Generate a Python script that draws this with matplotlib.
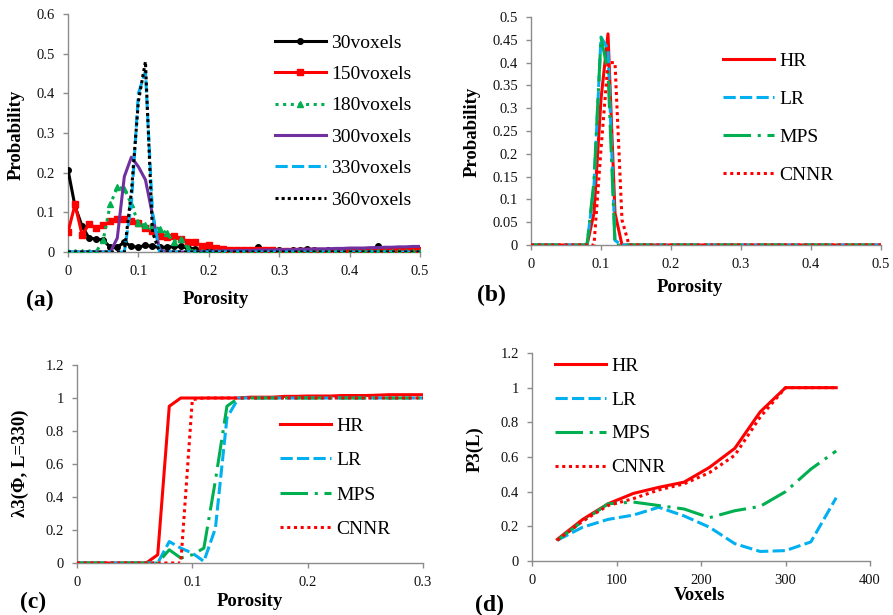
import matplotlib
matplotlib.use('Agg')
import matplotlib.pyplot as plt
from matplotlib.ticker import FixedLocator, FuncFormatter

plt.rcParams['font.family'] = ['Liberation Serif', 'DejaVu Serif']
plt.rcParams['mathtext.fontset'] = 'stix'

# ---------------- data ----------------
# (a) porosity distributions at different window sizes
por_a = [round(i * 0.01, 2) for i in range(51)]
v30 = [0.207, 0.115, 0.065, 0.035, 0.033, 0.03, 0.012, 0.012, 0.025, 0.014,
       0.012, 0.017, 0.014, 0.012, 0.012, 0.014, 0.014, 0.01, 0.008, 0.006,
       0.005, 0.004, 0.005, 0.006, 0.006, 0.004, 0.005, 0.012, 0.004, 0.003,
       0.004, 0.003, 0.004, 0.005, 0.008, 0.004, 0.003, 0.005, 0.003, 0.004,
       0.003, 0.004, 0.003, 0.004, 0.014, 0.004, 0.003, 0.004, 0.003, 0.003,
       0.002]
v150 = [0.05, 0.12, 0.043, 0.071, 0.06, 0.067, 0.077, 0.083, 0.084, 0.079,
        0.073, 0.06, 0.052, 0.04, 0.037, 0.04, 0.034, 0.025, 0.024, 0.016,
        0.017, 0.01, 0.008, 0.006, 0.006, 0.005, 0.005, 0.004, 0.004, 0.004,
        0.003, 0.003, 0.003, 0.003, 0.003, 0.003, 0.003, 0.003, 0.003, 0.003,
        0.003, 0.003, 0.003, 0.003, 0.003, 0.003, 0.003, 0.003, 0.004, 0.004,
        0.005]
v180 = [0, 0, 0, 0, 0, 0.03, 0.12, 0.163, 0.16, 0.12,
        0.073, 0.067, 0.066, 0.058, 0.048, 0.025, 0.033, 0.01, 0, 0,
        0, 0, 0, 0, 0, 0, 0, 0, 0, 0,
        0, 0, 0, 0, 0, 0, 0, 0, 0, 0,
        0, 0, 0, 0, 0, 0, 0, 0, 0, 0,
        0]
v300 = [0, 0, 0, 0, 0, 0, 0, 0.035, 0.19, 0.239,
        0.215, 0.182, 0.094, 0.006, 0, 0, 0, 0, 0, 0.001,
        0.002, 0.002, 0.003, 0.003, 0.004, 0.004, 0.004, 0.005, 0.005, 0.005,
        0.006, 0.006, 0.006, 0.007, 0.007, 0.008, 0.008, 0.008, 0.009, 0.009,
        0.01, 0.01, 0.01, 0.011, 0.011, 0.012, 0.012, 0.013, 0.013, 0.014,
        0.014]
v330 = [0, 0, 0, 0, 0, 0, 0, 0, 0, 0.12,
        0.40, 0.455, 0.10, 0, 0, 0, 0, 0, 0, 0,
        0, 0, 0, 0, 0, 0, 0, 0, 0, 0,
        0, 0, 0, 0, 0, 0, 0, 0, 0, 0,
        0, 0, 0, 0, 0, 0, 0, 0, 0, 0,
        0]
v360 = [0, 0, 0, 0, 0, 0, 0, 0, 0, 0.15,
        0.38, 0.48, 0.05, 0, 0, 0, 0, 0, 0, 0,
        0, 0, 0, 0, 0, 0, 0, 0, 0, 0,
        0, 0, 0, 0, 0, 0, 0, 0, 0, 0,
        0, 0, 0, 0, 0, 0, 0, 0, 0, 0,
        0]

# (b) porosity distributions of the four images
por_b = [round(i * 0.01, 2) for i in range(51)]
b_hr = [0, 0, 0, 0, 0, 0, 0, 0, 0, 0.07,
        0.32, 0.463, 0.07, 0, 0, 0, 0, 0, 0, 0,
        0, 0, 0, 0, 0, 0, 0, 0, 0, 0,
        0, 0, 0, 0, 0, 0, 0, 0, 0, 0,
        0, 0, 0, 0, 0, 0, 0, 0, 0, 0,
        0]
b_lr = [0, 0, 0, 0, 0, 0, 0, 0, 0, 0.13,
        0.456, 0.43, 0.01, 0, 0, 0, 0, 0, 0, 0,
        0, 0, 0, 0, 0, 0, 0, 0, 0, 0,
        0, 0, 0, 0, 0, 0, 0, 0, 0, 0,
        0, 0, 0, 0, 0, 0, 0, 0, 0, 0,
        0]
b_mps = [0, 0, 0, 0, 0, 0, 0, 0, 0, 0.14,
         0.455, 0.38, 0, 0, 0, 0, 0, 0, 0, 0,
         0, 0, 0, 0, 0, 0, 0, 0, 0, 0,
         0, 0, 0, 0, 0, 0, 0, 0, 0, 0,
         0, 0, 0, 0, 0, 0, 0, 0, 0, 0,
         0]
b_cnnr = [0, 0, 0, 0, 0, 0, 0, 0, 0, 0,
          0.21, 0.40, 0.40, 0.055, 0, 0, 0, 0, 0, 0,
          0, 0, 0, 0, 0, 0, 0, 0, 0, 0,
          0, 0, 0, 0, 0, 0, 0, 0, 0, 0,
          0, 0, 0, 0, 0, 0, 0, 0, 0, 0,
          0]

# (c) local percolation probability at L=330
por_c = [round(i * 0.01, 2) for i in range(31)]
c_hr = [0, 0, 0, 0, 0, 0, 0, 0.05, 0.95, 1.0,
        1.0, 1.0, 1.0, 1.0, 1.0, 1.005, 1.005, 1.005, 1.01, 1.01,
        1.012, 1.012, 1.012, 1.015, 1.015, 1.015, 1.017, 1.02, 1.02, 1.02,
        1.02]
c_lr = [0, 0, 0, 0, 0, 0, 0, 0, 0.13, 0.09,
        0.06, 0.01, 0.21, 0.88, 1.0, 1.0, 1.0, 1.0, 1.0, 1.0,
        1.0, 1.0, 1.0, 1.0, 1.0, 1.0, 1.0, 1.0, 1.0, 1.0,
        1.0]
c_mps = [0, 0, 0, 0, 0, 0, 0, 0, 0.08, 0.03,
         0.05, 0.09, 0.5, 0.95, 1.0, 1.0, 1.0, 1.0, 1.0, 1.0,
         1.0, 1.0, 1.0, 1.0, 1.0, 1.0, 1.0, 1.0, 1.0, 1.0,
         1.0]
c_cnnr = [0, 0, 0, 0, 0, 0, 0, 0, 0, 0,
          0.99, 1.0, 1.0, 1.0, 1.0, 1.0, 1.0, 1.0, 1.0, 1.0,
          1.0, 1.0, 1.0, 1.0, 1.0, 1.0, 1.0, 1.0, 1.0, 1.0,
          1.0]

# (d) total fraction of percolating cells vs window size
voxels = [30, 60, 90, 120, 150, 180, 210, 240, 270, 300, 330, 360]
d_hr = [0.125, 0.24, 0.33, 0.39, 0.425, 0.455, 0.54, 0.65, 0.86, 1.0, 1.0, 1.0]
d_lr = [0.12, 0.195, 0.24, 0.265, 0.31, 0.26, 0.195, 0.10, 0.055, 0.06, 0.11, 0.365]
d_mps = [0.12, 0.23, 0.33, 0.34, 0.32, 0.30, 0.25, 0.29, 0.315, 0.40, 0.53, 0.635]
d_cnnr = [0.12, 0.23, 0.32, 0.36, 0.41, 0.445, 0.51, 0.61, 0.83, 1.0, 1.0, 1.0]

labels_a = ['30voxels', '150voxels', '180voxels', '300voxels', '330voxels', '360voxels']
labels_m = ['HR', 'LR', 'MPS', 'CNNR']

# ---------------- styles ----------------
RED = '#FF0000'
BLUE = '#00B0F0'
GREEN = '#00B050'
PURPLE = '#7030A0'
BLACK = '#000000'
AXC = '#8C8C8C'
LW = 2.2

W, H = 893, 615
fig = plt.figure(figsize=(W / 100, H / 100), dpi=100)


def px_axes(l, t, r, b):
    return fig.add_axes([l / W, 1 - b / H, (r - l) / W, (b - t) / H])


def fmt(v, pos):
    s = f"{v:.2f}".rstrip('0').rstrip('.')
    return '0' if s in ('0', '-0') else s


def style(ax, xlim, xticks, ylim, yticks):
    ax.set_xlim(*xlim)
    ax.set_ylim(*ylim)
    ax.xaxis.set_major_locator(FixedLocator(xticks))
    ax.yaxis.set_major_locator(FixedLocator(yticks))
    ax.xaxis.set_major_formatter(FuncFormatter(fmt))
    ax.yaxis.set_major_formatter(FuncFormatter(fmt))
    for s in ('top', 'right'):
        ax.spines[s].set_visible(False)
    for s in ('left', 'bottom'):
        ax.spines[s].set_color(AXC)
        ax.spines[s].set_linewidth(1.0)
    ax.tick_params(axis='both', direction='out', length=3.5, width=1.0,
                   color=AXC, labelsize=10.5, labelcolor='#111111', pad=6)
    for sp in ax.spines.values():
        sp.set_zorder(0.5)


def put_labels(ax, xl, xpos, yl, ypos, tag, tpos):
    ax.set_xlabel(xl, fontsize=13.5, fontweight='bold', va='center', ha='center')
    ax.xaxis.set_label_coords(xpos[0] / W, 1 - xpos[1] / H, transform=fig.transFigure)
    ax.set_ylabel(yl, fontsize=13.5, fontweight='bold', va='center', ha='center')
    ax.yaxis.set_label_coords(ypos[0] / W, 1 - ypos[1] / H, transform=fig.transFigure)
    fig.text(tpos[0] / W, 1 - tpos[1] / H, tag, fontsize=17, fontweight='bold',
             ha='left', va='center')


def legend(ax, x, y, spacing):
    ax.legend(loc='upper left', bbox_to_anchor=(x / W, 1 - y / H),
              bbox_transform=fig.transFigure, frameon=False, fontsize=14,
              handlelength=2.6, handletextpad=0.3, labelspacing=spacing,
              borderpad=0, borderaxespad=0, numpoints=1)


def model_lines(ax, x, hr, lr, mps, cnnr):
    ax.plot(x, hr, color=RED, lw=LW, label=labels_m[0], zorder=3)
    ax.plot(x, lr, color=BLUE, lw=LW, dashes=(4, 1.4), label=labels_m[1], zorder=4)
    ax.plot(x, mps, color=GREEN, lw=LW, dashes=(9, 2.2, 1, 2.2), label=labels_m[2], zorder=5)
    ax.plot(x, cnnr, color=RED, lw=LW, dashes=(1, 1.2), label=labels_m[3], zorder=6)


# ---------------- (a) ----------------
axa = px_axes(68, 14, 420, 252)
axa.plot(por_a, v30, color=BLACK, lw=LW, marker='o', ms=4, label=labels_a[0], zorder=3)
axa.plot(por_a, v150, color=RED, lw=LW, marker='s', ms=5, label=labels_a[1], zorder=4)
axa.plot(por_a, v180, color=GREEN, lw=LW, dashes=(1, 1.5), marker='^', ms=4.5,
         label=labels_a[2], zorder=5)
axa.plot(por_a, v300, color=PURPLE, lw=LW, label=labels_a[3], zorder=6)
axa.plot(por_a, v330, color=BLUE, lw=LW, dashes=(4, 1.4), label=labels_a[4], zorder=7)
axa.plot(por_a, v360, color=BLACK, lw=LW, dashes=(1, 1), label=labels_a[5], zorder=8)
style(axa, (0, 0.5), [0, 0.1, 0.2, 0.3, 0.4, 0.5], (0, 0.6),
      [0, 0.1, 0.2, 0.3, 0.4, 0.5, 0.6])
put_labels(axa, 'Porosity', (216, 300), 'Probability', (16, 135), '(a)', (26, 300))
legend(axa, 275, 34, 0.71)

# ---------------- (b) ----------------
axb = px_axes(531, 17, 881, 245)
model_lines(axb, por_b, b_hr, b_lr, b_mps, b_cnnr)
style(axb, (0, 0.5), [0, 0.1, 0.2, 0.3, 0.4, 0.5], (0, 0.5),
      [0, 0.05, 0.1, 0.15, 0.2, 0.25, 0.3, 0.35, 0.4, 0.45, 0.5])
put_labels(axb, 'Porosity', (690, 287), 'Probability', (472, 132), '(b)', (477, 295))
legend(axb, 723, 52, 1.05)

# ---------------- (c) ----------------
axc = px_axes(77, 365, 423, 563)
model_lines(axc, por_c, c_hr, c_lr, c_mps, c_cnnr)
style(axc, (0, 0.3), [0, 0.1, 0.2, 0.3], (0, 1.2), [0, 0.2, 0.4, 0.6, 0.8, 1.0, 1.2])
put_labels(axc, 'Porosity', (250, 602), 'λ3(Φ, L=330)', (20, 463), '(c)', (20, 602))
legend(axc, 280, 417, 0.87)

# ---------------- (d) ----------------
axd = px_axes(532, 353, 870, 561)
model_lines(axd, voxels, d_hr, d_lr, d_mps, d_cnnr)
style(axd, (0, 400), [0, 100, 200, 300, 400], (0, 1.2), [0, 0.2, 0.4, 0.6, 0.8, 1.0, 1.2])
put_labels(axd, 'Voxels', (700, 595), 'P3(L)', (475, 449), '(d)', (475, 605))
legend(axd, 555, 357, 0.84)

fig.savefig('out.png', dpi=100)
